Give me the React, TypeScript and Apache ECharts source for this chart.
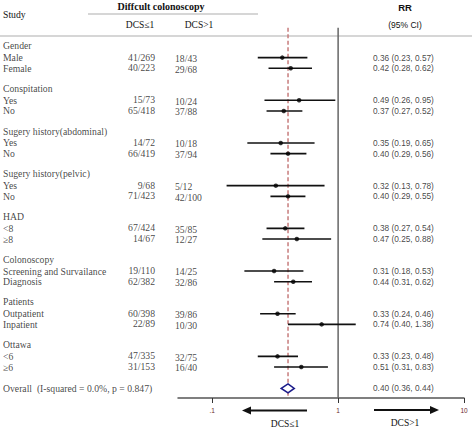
import React, { useEffect, useRef } from "react";
import * as echarts from "echarts";

// ---- data ----
const groups = [
  "Gender",
  "Conspitation",
  "Sugery history(abdominal)",
  "Sugery history(pelvic)",
  "HAD",
  "Colonoscopy",
  "Patients",
  "Ottawa",
];
const subgroupLabels = [
  "Male", "Female",
  "Yes", "No",
  "Yes", "No",
  "Yes", "No",
  "<8", "≥8",
  "Screening and Survailance", "Diagnosis",
  "Outpatient", "Inpatient",
  "<6", "≥6",
];
const dcsLe1Counts = [
  "41/269", "40/223", "15/73", "65/418", "14/72", "66/419", "9/68", "71/423",
  "67/424", "14/67", "19/110", "62/382", "60/398", "22/89", "47/335", "31/153",
];
const dcsGt1Counts = [
  "18/43", "29/68", "10/24", "37/88", "10/18", "37/94", "5/12", "42/100",
  "35/85", "12/27", "14/25", "32/86", "39/86", "10/30", "32/75", "16/40",
];
const rrEst = [0.36, 0.42, 0.49, 0.37, 0.35, 0.40, 0.32, 0.40, 0.38, 0.47, 0.31, 0.44, 0.33, 0.74, 0.33, 0.51];
const rrLow = [0.23, 0.28, 0.26, 0.27, 0.19, 0.29, 0.13, 0.29, 0.27, 0.25, 0.18, 0.31, 0.24, 0.40, 0.23, 0.31];
const rrHigh = [0.57, 0.62, 0.95, 0.52, 0.65, 0.56, 0.78, 0.55, 0.54, 0.88, 0.53, 0.62, 0.46, 1.38, 0.48, 0.83];
const overallLabel = "Overall  (I-squared = 0.0%, p = 0.847)";
const overallEst = 0.40;
const overallLow = 0.36;
const overallHigh = 0.44;
const tickValues = [0.1, 1, 10];
const tickLabels = [".1", "1", "10"];
const nullValue = 1;

// ---- layout ----
const W = 472;
const H = 429;
const PLOT_H = 398;
const Y_MIN = -4.4;
const Y_MAX = 32.9;
const X_MIN_LOG = -1.272;
const X_MAX_LOG = 1;
const LINE_TOP = -1.8;
const LABEL_X = 3;
const LE1_X = 155;
const GT1_X = 175;
const RR_X = 373;
const SERIF = "'Liberation Serif', 'Times New Roman', serif";
const SANS = "'Liberation Sans', Arial, sans-serif";

const lg = (v: number) => Math.log10(v);
const fmt = (v: number) => v.toFixed(2);
const rowY = (i: number) => 4 * Math.floor(i / 2) + 1 + (i % 2);
const headerY = (g: number) => 4 * g - 0.12;
const overallY = 4 * groups.length;

function textSeries(items: { name: string; value: number[] }[], align: string, font: string, size: number, dy = 0) {
  return {
    type: "scatter",
    xAxisIndex: 1,
    yAxisIndex: 1,
    silent: true,
    symbolSize: 0.1,
    itemStyle: { color: "transparent" },
    data: items,
    label: {
      show: true,
      position: "inside",
      formatter: "{b}",
      align,
      verticalAlign: "middle",
      offset: [0, dy],
      color: "#111",
      fontFamily: font,
      fontSize: size,
    },
    z: 5,
  };
}

export default function App() {
  const ref = useRef<HTMLDivElement>(null);
  useEffect(() => {
    if (!ref.current) return;
    const chart = echarts.init(ref.current, undefined, { renderer: "svg" });

    const headerItems = groups.map((g, i) => ({ name: g, value: [LABEL_X, headerY(i)] }));
    const subItems = subgroupLabels.map((s, i) => ({ name: s, value: [LABEL_X, rowY(i)] }));
    subItems.push({ name: overallLabel, value: [LABEL_X, overallY] });
    const le1Items = dcsLe1Counts.map((s, i) => ({ name: s, value: [LE1_X, rowY(i)] }));
    const gt1Items = dcsGt1Counts.map((s, i) => ({ name: s, value: [GT1_X, rowY(i)] }));
    const rrItems = rrEst.map((e, i) => ({
      name: `${fmt(e)} (${fmt(rrLow[i])}, ${fmt(rrHigh[i])})`,
      value: [RR_X, rowY(i)],
    }));
    rrItems.push({
      name: `${fmt(overallEst)} (${fmt(overallLow)}, ${fmt(overallHigh)})`,
      value: [RR_X, overallY],
    });

    const ciData = rrEst.map((e, i) => [lg(rrLow[i]), lg(rrHigh[i]), rowY(i), lg(e)]);
    const pointData = rrEst.map((e, i) => [lg(e), rowY(i)]);

    const option: any = {
      animation: false,
      backgroundColor: "#fff",
      grid: [
        { left: 178, width: 286, top: 0, height: PLOT_H, outerBoundsMode: "none", containLabel: false },
        { left: 0, width: W, top: 0, height: PLOT_H, outerBoundsMode: "none", containLabel: false },
      ],
      xAxis: [
        {
          type: "value",
          gridIndex: 0,
          position: "bottom",
          min: X_MIN_LOG,
          max: X_MAX_LOG,
          axisLine: { show: true, onZero: false, lineStyle: { color: "#555", width: 1.5 } },
          axisTick: {
            show: true,
            customValues: tickValues.map(lg),
            length: 5,
            lineStyle: { color: "#333", width: 1 },
          },
          axisLabel: {
            show: true,
            customValues: tickValues.map(lg),
            formatter: (v: number) => {
              const idx = tickValues.findIndex((t) => Math.abs(lg(t) - v) < 1e-6);
              return idx >= 0 ? tickLabels[idx] : "";
            },
            fontSize: 6.5,
            color: "#6b2a2a",
            fontFamily: SANS,
            margin: 9,
          },
          splitLine: { show: false },
        },
        { type: "value", gridIndex: 1, min: 0, max: W, show: false },
      ],
      yAxis: [
        { type: "value", gridIndex: 0, min: Y_MIN, max: Y_MAX, inverse: true, show: false },
        { type: "value", gridIndex: 1, min: Y_MIN, max: Y_MAX, inverse: true, show: false },
      ],
      series: [
        // vertical line at null value
        {
          type: "line",
          xAxisIndex: 0,
          yAxisIndex: 0,
          silent: true,
          symbol: "none",
          data: [
            [lg(nullValue), LINE_TOP],
            [lg(nullValue), Y_MAX],
          ],
          lineStyle: { color: "#666", width: 1.5 },
          z: 1,
        },
        // dashed overall line
        {
          type: "line",
          xAxisIndex: 0,
          yAxisIndex: 0,
          silent: true,
          symbol: "none",
          data: [
            [lg(overallEst), LINE_TOP],
            [lg(overallEst), Y_MAX],
          ],
          lineStyle: { color: "#c77b7b", width: 1.5, type: [4, 2.5] },
          z: 1,
        },
        // CI lines
        {
          type: "custom",
          xAxisIndex: 0,
          yAxisIndex: 0,
          silent: true,
          data: ciData,
          encode: { x: [0, 1], y: 2 },
          renderItem: (_params: any, api: any) => {
            const a = api.coord([api.value(0), api.value(2)]);
            const b = api.coord([api.value(1), api.value(2)]);
            return {
              type: "line",
              shape: { x1: a[0], y1: a[1], x2: b[0], y2: b[1] },
              style: { stroke: "#111", lineWidth: 1.6 },
            };
          },
          z: 2,
        },
        // point estimates
        {
          type: "scatter",
          xAxisIndex: 0,
          yAxisIndex: 0,
          silent: true,
          symbol: "circle",
          symbolSize: 4.5,
          itemStyle: { color: "#000" },
          data: pointData,
          z: 3,
        },
        // overall diamond
        {
          type: "custom",
          xAxisIndex: 0,
          yAxisIndex: 0,
          silent: true,
          data: [[lg(overallLow), lg(overallHigh), overallY, lg(overallEst)]],
          encode: { x: [0, 1], y: 2 },
          renderItem: (_params: any, api: any) => {
            const l = api.coord([api.value(0), api.value(2)]);
            const r = api.coord([api.value(1), api.value(2)]);
            const c = api.coord([api.value(3), api.value(2)]);
            const h = 4.5;
            return {
              type: "polygon",
              shape: {
                points: [
                  [l[0] - 1, l[1]],
                  [c[0], c[1] - h],
                  [r[0] + 1, r[1]],
                  [c[0], c[1] + h],
                ],
              },
              style: { fill: "#fff", stroke: "#1c1c8a", lineWidth: 1.6 },
            };
          },
          z: 4,
        },
        textSeries(headerItems, "left", SERIF, 9.7),
        textSeries(subItems, "left", SERIF, 9.7),
        textSeries(le1Items, "right", SERIF, 9.7, -0.5),
        textSeries(gt1Items, "left", SERIF, 9.7, 0.8),
        textSeries(rrItems, "left", SANS, 8.3),
      ],
      graphic: [
        { type: "text", left: 3, top: 9, style: { text: "Study", font: `9.7px ${SERIF}`, fill: "#111" } },
        {
          type: "text",
          x: 161,
          y: 6,
          style: { text: "Diffcult colonoscopy", font: `bold 10px ${SERIF}`, fill: "#111", align: "center", verticalAlign: "middle" },
        },
        { type: "line", shape: { x1: 88, y1: 14, x2: 258, y2: 14 }, style: { stroke: "#d6d6d6", lineWidth: 2 } },
        {
          type: "text",
          x: 140,
          y: 25,
          style: { text: "DCS≤1", font: `9.5px ${SERIF}`, fill: "#111", align: "center", verticalAlign: "middle" },
        },
        {
          type: "text",
          x: 199,
          y: 25,
          style: { text: "DCS>1", font: `9.5px ${SERIF}`, fill: "#111", align: "center", verticalAlign: "middle" },
        },
        {
          type: "text",
          x: 405,
          y: 7,
          style: { text: "RR", font: `bold 9.5px ${SANS}`, fill: "#111", align: "center", verticalAlign: "middle" },
        },
        {
          type: "text",
          x: 405,
          y: 25,
          style: { text: "(95% CI)", font: `8.5px ${SANS}`, fill: "#111", align: "center", verticalAlign: "middle" },
        },
        { type: "line", shape: { x1: 0, y1: 36, x2: W, y2: 36 }, style: { stroke: "#d6d6d6", lineWidth: 2 } },
        // left arrow
        { type: "line", shape: { x1: 307, y1: 410.5, x2: 250, y2: 410.5 }, style: { stroke: "#111", lineWidth: 2.2 } },
        {
          type: "polygon",
          shape: { points: [[242, 410.5], [251, 406.5], [251, 414.5]] },
          style: { fill: "#111" },
        },
        // right arrow
        { type: "line", shape: { x1: 374, y1: 410, x2: 430, y2: 410 }, style: { stroke: "#111", lineWidth: 2.2 } },
        {
          type: "polygon",
          shape: { points: [[439, 410], [430, 406], [430, 414]] },
          style: { fill: "#111" },
        },
        {
          type: "text",
          x: 285,
          y: 424,
          style: { text: "DCS≤1", font: `9.5px ${SERIF}`, fill: "#111", align: "center", verticalAlign: "middle" },
        },
        {
          type: "text",
          x: 405,
          y: 423,
          style: { text: "DCS>1", font: `9.5px ${SERIF}`, fill: "#111", align: "center", verticalAlign: "middle" },
        },
      ],
    };
    chart.setOption(option);
    return () => chart.dispose();
  }, []);

  return (
    <div
      ref={ref}
      style={{ position: "fixed", left: 0, top: 0, width: W, height: H, background: "#fff" }}
    />
  );
}
